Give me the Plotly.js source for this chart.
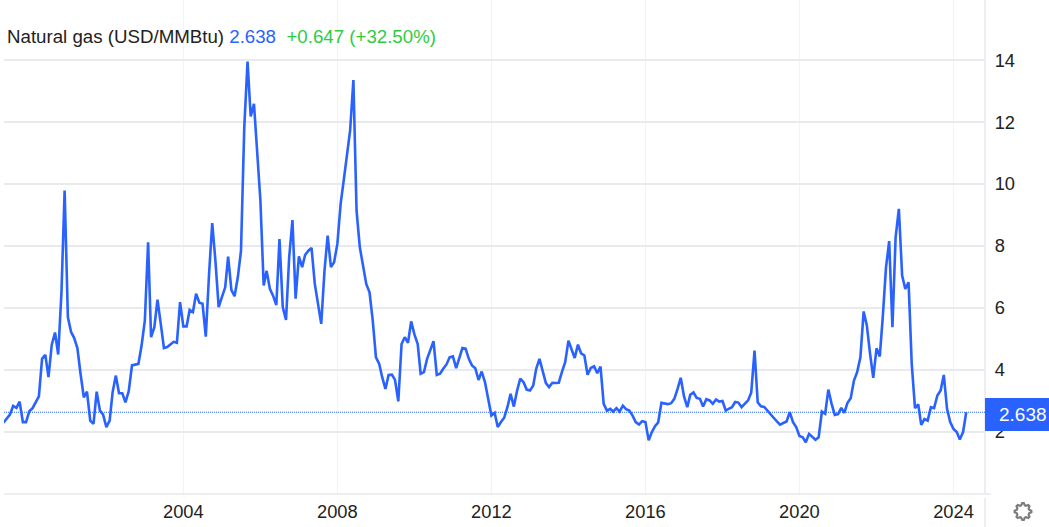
<!DOCTYPE html>
<html>
<head>
<meta charset="utf-8">
<script src="https://cdn.plot.ly/plotly-3.0.1.min.js"></script>
<style>html,body{margin:0;padding:0;background:#fff}#c{width:1049px;height:527px}</style>
</head>
<body>
<div id="c"></div>
<script>
const startYear = 1999, startMonth = 5;
const prices = [
2.30,2.42,2.56,2.84,2.78,2.98,2.32,2.32,
2.67,2.77,2.96,3.15,4.36,4.49,3.77,4.82,5.21,4.50,6.50,9.79,
5.70,5.22,5.04,4.71,3.88,3.12,3.30,2.37,2.26,3.30,2.69,2.56,
2.16,2.37,3.28,3.82,3.25,3.25,2.96,3.32,4.15,4.17,4.20,4.79,
5.60,8.12,5.06,5.38,6.27,5.49,4.71,4.74,4.84,4.91,4.88,6.19,
5.41,5.41,5.94,5.87,6.46,6.17,6.14,5.08,7.10,8.74,7.50,6.03,
6.35,6.67,7.66,6.58,6.38,7.00,7.85,11.83,13.95,12.18,12.59,11.19,
9.47,6.73,7.20,6.62,6.40,6.10,8.23,6.03,5.62,7.64,8.84,6.30,
7.67,7.32,7.71,7.85,7.94,6.78,6.19,5.49,7.21,8.34,7.32,7.48,
8.07,9.36,10.11,10.92,11.73,13.36,9.14,7.96,7.42,6.78,6.51,5.62,
4.41,4.20,3.77,3.39,3.84,3.85,3.68,2.99,4.84,5.06,4.88,5.57,
5.15,4.84,3.88,3.93,4.36,4.65,4.93,3.84,3.88,4.04,4.18,4.41,
4.44,4.06,4.39,4.71,4.69,4.36,4.15,4.06,3.68,3.95,3.61,3.02,
2.53,2.62,2.16,2.32,2.46,2.80,3.23,2.82,3.34,3.72,3.61,3.37,
3.34,3.50,4.04,4.36,3.98,3.58,3.45,3.59,3.58,3.59,3.95,4.25,
4.95,4.63,4.39,4.82,4.54,4.47,3.85,4.07,4.12,3.90,4.11,2.91,
2.69,2.75,2.66,2.77,2.66,2.85,2.74,2.69,2.53,2.32,2.24,2.35,
2.32,1.73,1.99,2.19,2.31,2.94,2.91,2.90,2.93,3.07,3.39,3.75,
3.15,2.80,3.20,3.28,3.10,3.07,2.82,3.06,3.02,2.91,3.05,2.98,
3.00,2.69,2.75,2.80,2.97,2.95,2.80,2.91,3.02,3.28,4.63,2.96,
2.83,2.81,2.69,2.59,2.46,2.34,2.24,2.29,2.34,2.64,2.32,2.16,
1.87,1.83,1.67,1.94,1.85,1.75,1.83,2.66,2.59,3.37,2.91,2.55,
2.58,2.78,2.62,2.94,3.09,3.66,3.93,4.41,5.89,5.44,4.52,3.75,
4.70,4.44,5.70,7.31,8.16,5.38,8.28,9.20,7.05,6.62,6.83,4.20,
2.77,2.89,2.23,2.42,2.37,2.80,2.77,3.18,3.34,3.84,2.75,2.32,
2.10,2.00,1.76,2.00,2.638
];
const dates = prices.map((_, i) => {
  const t = startYear * 12 + (startMonth - 1) + i;
  const y = Math.floor(t / 12), m = t % 12 + 1;
  return y + '-' + String(m).padStart(2, '0') + '-01';
});
const xTickVals = ['2004-01-01','2008-01-01','2012-01-01','2016-01-01','2020-01-01','2024-01-01'];
const xTickText = ['2004','2008','2012','2016','2020','2024'];
const yTickVals = [2,4,6,8,10,12,14];
const lastPrice = 2.638;
const seriesName = 'Natural gas (USD/MMBtu)';
const lastText = '2.638';
const changeText = '+0.647 (+32.50%)';

const BLUE = '#2962ff', GREEN = '#2ecc40', TEXT = '#222222';
const FONT = '"Liberation Sans", Arial, sans-serif';

// gear outline
let gear = '';
const teeth = 8;
for (let i = 0; i < teeth * 4; i++) {
  const a = (i - 0.5) / (teeth * 4) * 2 * Math.PI;
  const r = (i % 4 === 0 || i % 4 === 1) ? 8.4 : 6.4;
  gear += (i ? 'L' : 'M') + (r * Math.cos(a)).toFixed(2) + ',' + (r * Math.sin(a)).toFixed(2);
}
gear += 'Z';
const hole = 'M3.2,0A3.2,3.2 0 1,1 -3.2,0A3.2,3.2 0 1,1 3.2,0Z';
const gearX = (1023-4)/981, gearY = (494-511.5)/494;

const layout = {
  width: 1049, height: 527,
  margin: {l: 4, r: 64, t: 0, b: 33, pad: 0},
  paper_bgcolor: '#ffffff', plot_bgcolor: '#ffffff',
  showlegend: false,
  font: {family: FONT, size: 18, color: TEXT},
  xaxis: {
    type: 'date',
    range: ['1999-05-06', '2024-10-26'],
    tickmode: 'array', tickvals: xTickVals, ticktext: xTickText,
    showgrid: true, gridcolor: '#f0f3fa', gridwidth: 1.5,
    zeroline: false, showline: false,
    ticks: 'outside', ticklen: 1, tickcolor: 'rgba(0,0,0,0)',
    tickfont: {family: FONT, size: 18.3, color: TEXT}
  },
  yaxis: {
    side: 'right',
    range: [0, 15.94],
    tickmode: 'array', tickvals: yTickVals,
    ticktext: yTickVals.map(String),
    showgrid: true, gridcolor: '#e9eaee', gridwidth: 1.5,
    zeroline: false, showline: false,
    ticks: 'outside', ticklen: 5, tickcolor: 'rgba(0,0,0,0)',
    tickfont: {family: FONT, size: 18.3, color: TEXT}
  },
  shapes: [
    {type: 'rect', xref: 'paper', yref: 'paper', layer: 'between', x0: -0.01, x1: 0.445, y0: 1 - 52/494, y1: 1 - 17/494,
     fillcolor: '#ffffff', line: {width: 0}},
    {type: 'line', xref: 'paper', yref: 'paper', x0: 1, x1: 1, y0: 0, y1: 1, line: {color: '#e6e8ee', width: 1.5}},
    {type: 'line', xref: 'paper', yref: 'paper', x0: 0, x1: 1.006, y0: 0, y1: 0, line: {color: '#e6e8ee', width: 1.5}},
    {type: 'line', xref: 'paper', yref: 'paper', x0: 1, x1: 1, y0: -0.008, y1: -0.07, line: {color: '#e6e8ee', width: 1.5}},
    {type: 'line', xref: 'paper', yref: 'y', x0: 0, x1: 1, y0: lastPrice, y1: lastPrice, line: {color: BLUE, width: 1, dash: '1px,1px'}},
    {type: 'rect', xref: 'paper', yref: 'paper', x0: 1, x1: 1.066, y0: (494-431)/494, y1: (494-398)/494, fillcolor: BLUE, line: {width: 0}},
    {type: 'path', xref: 'paper', yref: 'paper', xsizemode: 'pixel', ysizemode: 'pixel',
     xanchor: gearX, yanchor: gearY, path: gear, line: {color: '#7d7d7d', width: 2.2}, fillcolor: 'rgba(0,0,0,0)'},
    {type: 'path', xref: 'paper', yref: 'paper', xsizemode: 'pixel', ysizemode: 'pixel',
     xanchor: gearX, yanchor: gearY, path: hole, line: {color: '#7d7d7d', width: 2.2}, fillcolor: 'rgba(0,0,0,0)'}
  ],
  annotations: [
    {xref: 'paper', yref: 'paper', x: (5-4)/981, y: (494-36)/494, xanchor: 'left', yanchor: 'middle', showarrow: false, align: 'left',
     text: seriesName + ' <span style="color:' + BLUE + '">' + lastText + '</span>  <span style="color:' + GREEN + '">' + changeText + '</span>',
     font: {family: FONT, size: 18.7, color: TEXT}},
    {xref: 'paper', yref: 'paper', x: (1049-4)/981, y: (494-414)/494, xanchor: 'right', yanchor: 'middle', showarrow: false,
     text: lastText, font: {family: FONT, size: 19, color: '#ffffff'}}
  ]
};

Plotly.newPlot('c', [{
  type: 'scatter', mode: 'lines',
  x: dates, y: prices,
  name: seriesName,
  line: {color: BLUE, width: 2.6, shape: 'linear'},
  hoverinfo: 'x+y'
}], layout, {displayModeBar: false, staticPlot: true});
</script>
</body>
</html>
